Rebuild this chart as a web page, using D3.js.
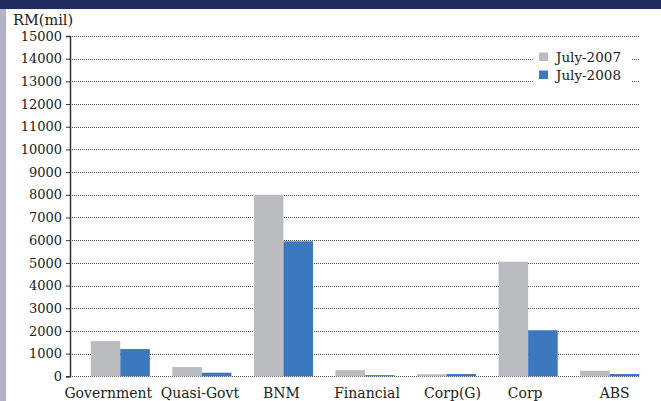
<!DOCTYPE html>
<html>
<head>
<meta charset="utf-8">
<script src="https://cdn.jsdelivr.net/npm/d3@7"></script>
<style>
  body { margin: 0; background: #fff; }
  svg { display: block; font-family: "DejaVu Serif", serif; }
</style>
</head>
<body>
<div class="chart_container"></div>
<script>
// data
const categories = ["Government", "Quasi-Govt", "BNM", "Financial", "Corp(G)", "Corp", "ABS"];
const seriesNames = ["July-2007", "July-2008"];
const july2007 = [1550, 410, 8000, 270, 90, 5050, 245];
const july2008 = [1200, 160, 5950, 50, 100, 2030, 100];
const yTicks = d3.range(0, 15001, 1000);

const colors = { "July-2007": "#bbbcc0", "July-2008": "#3b78bd" };
// the source nudges a few category labels off the band centre
const labelShift = [-12, -2, -2, 2, 6, -3, 5];

const width = 661, height = 401;
const svg = d3.select("div.chart_container").append("svg")
  .attr("width", width).attr("height", height);

// frame bits: dark header band and left strip
svg.append("rect").attr("x", 0).attr("y", 0).attr("width", width).attr("height", 9).attr("fill", "#1e2d5e");
svg.append("rect").attr("x", 0).attr("y", 9).attr("width", 6).attr("height", height - 9).attr("fill", "#b2b2c8");

const axisX = 70, gridEnd = 640;
const y = d3.scaleLinear().domain([0, 15000]).range([376.3, 36]);
const x0 = d3.scaleBand().domain(categories).range([79.5, 650.5]);
const x1 = d3.scaleBand().domain(seriesNames).range([0, x0.bandwidth()]).paddingOuter(0.38);

const rows = categories.map((c, i) => ({ cat: c, vals: [
  { key: "July-2007", v: july2007[i] },
  { key: "July-2008", v: july2008[i] }
]}));

// dotted grid lines
svg.append("g").selectAll("line").data(yTicks).enter().append("line")
  .attr("x1", axisX).attr("x2", gridEnd)
  .attr("y1", d => Math.round(y(d)) + 0.5).attr("y2", d => Math.round(y(d)) + 0.5)
  .attr("stroke", "#555").attr("stroke-width", 1).attr("stroke-dasharray", "1,1");

// bars
svg.append("g").selectAll("g").data(rows).enter().append("g")
  .attr("transform", d => `translate(${x0(d.cat)},0)`)
  .selectAll("rect").data(d => d.vals).enter().append("rect")
  .attr("x", d => x1(d.key))
  .attr("y", d => y(d.v))
  .attr("width", x1.bandwidth())
  .attr("height", d => y(0) - y(d.v))
  .attr("fill", d => colors[d.key]);

// y axis
const yAxis = d3.axisLeft(y).tickValues(yTicks).tickSize(4).tickPadding(4).tickFormat(d3.format("d"));
const gy = svg.append("g").attr("transform", `translate(${axisX},0)`).call(yAxis);
gy.select(".domain").attr("stroke", "#333").attr("stroke-width", 1.5);
gy.selectAll(".tick line").attr("stroke", "#333");
gy.selectAll("text").attr("font-size", 13).attr("fill", "#222").attr("font-family", "DejaVu Serif");

// category labels
svg.append("g").selectAll("text").data(categories).enter().append("text")
  .attr("x", (d, i) => x0(d) + x0.bandwidth() / 2 + labelShift[i])
  .attr("y", 398)
  .attr("text-anchor", "middle")
  .attr("font-size", 14)
  .attr("fill", "#222")
  .text(d => d);

// unit label
svg.append("text").attr("x", 13).attr("y", 25).attr("font-size", 14.5).attr("fill", "#222").text("RM(mil)");

// legend
const legend = svg.append("g");
legend.append("rect").attr("x", 534).attr("y", 45).attr("width", 97).attr("height", 42).attr("fill", "#fff");
const li = legend.selectAll("g").data(seriesNames).enter().append("g")
  .attr("transform", (d, i) => `translate(539,${52.5 + i * 18})`);
li.append("rect").attr("width", 9).attr("height", 8.5).attr("fill", d => colors[d]);
li.append("text").attr("x", 17).attr("y", 9).attr("font-size", 13.5).attr("fill", "#222").text(d => d);
</script>
</body>
</html>
